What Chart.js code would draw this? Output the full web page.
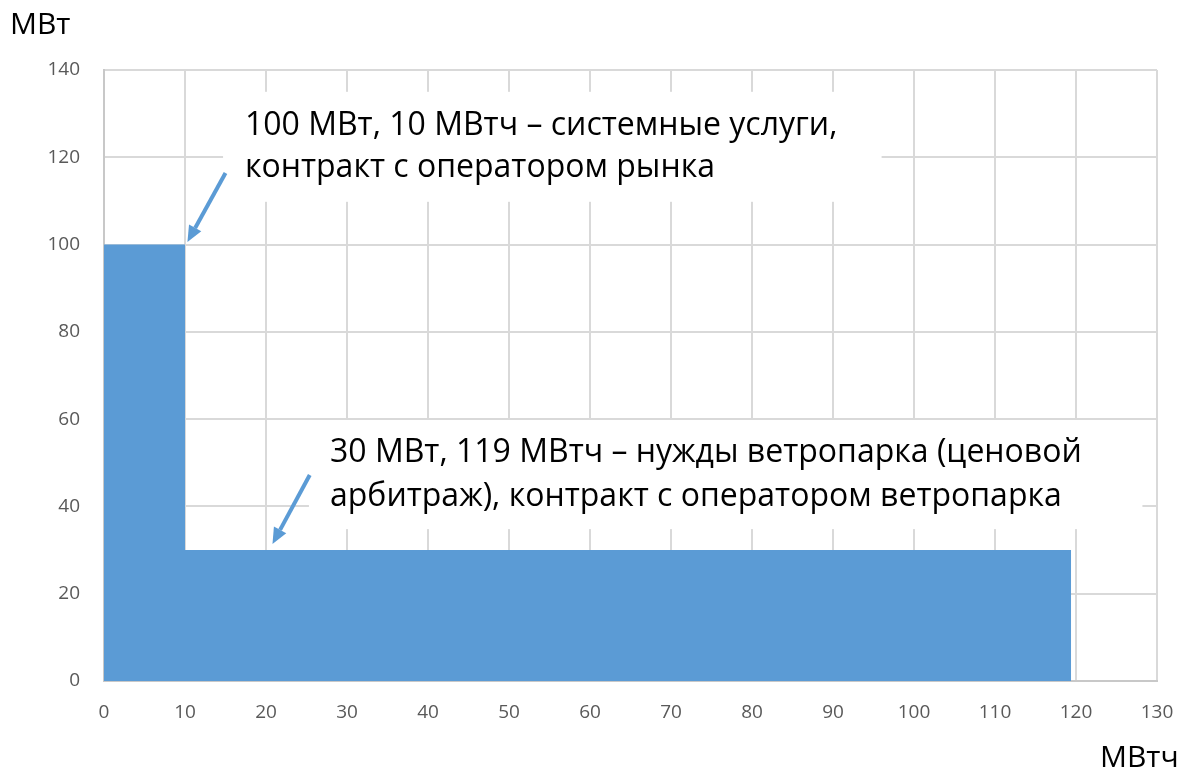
<!DOCTYPE html>
<html>
<head>
<meta charset="utf-8">
<script src="https://cdn.jsdelivr.net/npm/chart.js@4"></script>
<style>
  body { margin: 0; background: #fff; }
  #wrap { width: 1186px; height: 769px; }
</style>
</head>
<body>
<div id="wrap"><canvas id="chart"></canvas></div>
<script>
// Step profile: energy (MWh) on x, power (MW) on y
const energyX = [0, 10, 10, 119.4, 119.4];
const powerY = [100, 100, 30, 30, 0];

const xTicks = [0, 10, 20, 30, 40, 50, 60, 70, 80, 90, 100, 110, 120, 130];
const yTicks = [0, 20, 40, 60, 80, 100, 120, 140];

const noteOne = ['100 МВт, 10 МВтч – системные услуги,', 'контракт с оператором рынка'];
const noteTwo = ['30 МВт, 119 МВтч – нужды ветропарка (ценовой', 'арбитраж), контракт с оператором ветропарка'];

const blue = '#5B9BD5';
const font = '"Open Sans", "Noto Sans", sans-serif';

// annotation placement in data units
const notes = [
  { lines: noteOne, box: [14.7, 96.0, 109.8, 135], x: 17.4, y: [125.2, 115.4], arrow: [15.0, 116.4, 10.3, 100.6] },
  { lines: noteTwo, box: [25.3, 128.2, 34.8, 59.8], x: 27.9, y: [50.2, 40.1], arrow: [25.4, 47.2, 20.8, 31.4] }
];

function drawArrow(ctx, x1, y1, x2, y2) {
  const ang = Math.atan2(y2 - y1, x2 - x1);
  const head = 16, half = 7;
  const bx = x2 - head * Math.cos(ang), by = y2 - head * Math.sin(ang);
  ctx.strokeStyle = blue;
  ctx.fillStyle = blue;
  ctx.lineWidth = 4;
  ctx.beginPath();
  ctx.moveTo(x1, y1);
  ctx.lineTo(bx, by);
  ctx.stroke();
  ctx.beginPath();
  ctx.moveTo(x2, y2);
  ctx.lineTo(bx + half * Math.sin(ang), by - half * Math.cos(ang));
  ctx.lineTo(bx - half * Math.sin(ang), by + half * Math.cos(ang));
  ctx.closePath();
  ctx.fill();
}

const notesPlugin = {
  id: 'notes',
  beforeDatasetsDraw(chart) {
    const { ctx, scales: { x, y } } = chart;
    ctx.save();
    ctx.fillStyle = '#fff';
    notes.forEach(n => {
      const [x0, x1, y0, y1] = n.box;
      ctx.fillRect(x.getPixelForValue(x0), y.getPixelForValue(y1),
        x.getPixelForValue(x1) - x.getPixelForValue(x0), y.getPixelForValue(y0) - y.getPixelForValue(y1));
    });
    ctx.restore();
  },
  afterDatasetsDraw(chart) {
    const { ctx, scales: { x, y } } = chart;
    ctx.save();
    ctx.font = '32px ' + font;
    ctx.textBaseline = 'alphabetic';
    notes.forEach(n => {
      n.lines.forEach((t, i) => {
        ctx.fillStyle = '#000';
        ctx.fillText(t, x.getPixelForValue(n.x), y.getPixelForValue(n.y[i]));
      });
      const a = n.arrow;
      drawArrow(ctx, x.getPixelForValue(a[0]), y.getPixelForValue(a[1]), x.getPixelForValue(a[2]), y.getPixelForValue(a[3]));
    });
    // axis titles
    ctx.fillStyle = '#000';
    ctx.font = '30px ' + font;
    ctx.textAlign = 'left';
    ctx.fillText('МВт', 10, 34);
    ctx.fillText('МВтч', 1100, 767);
    ctx.restore();
  }
};

new Chart(document.getElementById('chart'), {
  type: 'line',
  data: {
    datasets: [{
      data: energyX.map((v, i) => ({ x: v, y: powerY[i] })),
      backgroundColor: blue,
      borderWidth: 0,
      pointRadius: 0,
      fill: 'origin',
      tension: 0
    }]
  },
  options: {
    responsive: true,
    maintainAspectRatio: false,
    animation: false,
    layout: { padding: { top: 70, right: 29, left: 0, bottom: 0 } },
    plugins: { legend: { display: false }, tooltip: { enabled: false } },
    scales: {
      x: {
        type: 'linear',
        min: 0,
        max: 130,
        afterBuildTicks: s => { s.ticks = xTicks.map(v => ({ value: v })); },
        afterFit: s => { s.height = 88; s.paddingLeft = 0; s.paddingRight = 0; },
        grid: { color: '#D9D9D9', lineWidth: 2, drawTicks: false },
        border: { color: '#C8C8C8', width: 2 },
        ticks: { color: '#595959', font: { size: 19, family: font }, padding: 20, maxRotation: 0 }
      },
      y: {
        min: 0,
        max: 140,
        afterBuildTicks: s => { s.ticks = yTicks.map(v => ({ value: v })); },
        afterFit: s => { s.width = 104; s.paddingTop = 0; s.paddingBottom = 0; },
        grid: { color: '#D9D9D9', lineWidth: 2, drawTicks: false },
        border: { color: '#C8C8C8', width: 2 },
        ticks: { color: '#595959', font: { size: 19, family: font }, padding: 24 }
      }
    }
  },
  plugins: [notesPlugin]
});
</script>
</body>
</html>
